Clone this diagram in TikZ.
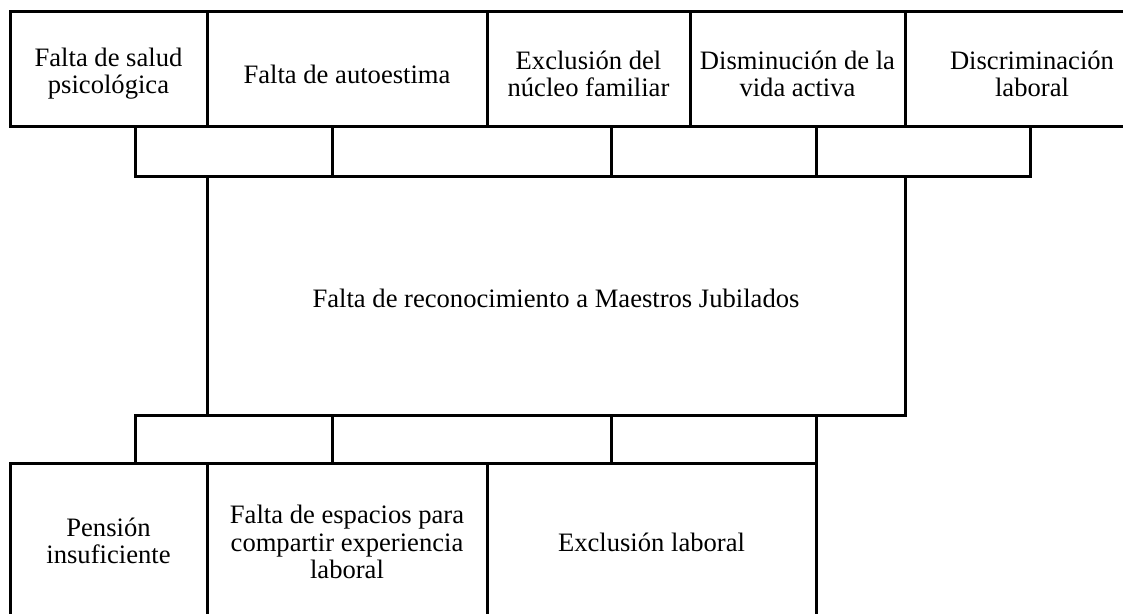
\documentclass[tikz,border=0pt]{standalone}
\usepackage{fontspec}
\setmainfont{Liberation Serif}
\usepackage{tikz}

\begin{document}
\begin{tikzpicture}[%
      x=0.5pt, y=-0.5pt,
      cell/.style={color=black, line width=1.5pt},
      boxtext/.style={align=center, inner sep=0pt, font=\fontsize{13.3}{13.6}\selectfont},
      ]
      \useasboundingbox (0,0) rectangle (1123,614);
      \clip (0,0) rectangle (1123,614);

      % efectos
      \draw [cell] (10,12) rectangle (207,127);
      \draw [cell] (207,12) rectangle (487,127);
      \draw [cell] (487,12) rectangle (690,127);
      \draw [cell] (690,12) rectangle (905,127);
      \draw [cell] (905,12) rectangle (1160,127);

      \draw [cell] (135,127) rectangle (332,177);
      \draw [cell] (332,127) rectangle (611,177);
      \draw [cell] (611,127) rectangle (816,177);
      \draw [cell] (816,127) rectangle (1030,177);

      % problema central
      \draw [cell] (207,177) rectangle (905,415);

      % causas
      \draw [cell] (135,415) rectangle (332,463);
      \draw [cell] (332,415) rectangle (611,463);
      \draw [cell] (611,415) rectangle (816,463);

      \draw [cell] (10,463) rectangle (207,620);
      \draw [cell] (207,463) rectangle (487,620);
      \draw [cell] (487,463) rectangle (816,620);

      \node (salud) at (108.5,74) [boxtext] {Falta de salud\\psicológica};
      \node (autoestima) at (347,74) [boxtext] {Falta de autoestima};
      \node (familia) at (588.5,74) [boxtext] {Exclusión del\\núcleo familiar};
      \node (vida) at (797.5,74) [boxtext] {Disminución de la\\vida activa};
      \node (discrim) at (1032,74) [boxtext] {Discriminación\\laboral};

      \node (problema) at (556,298) [boxtext] {Falta de reconocimiento a Maestros Jubilados};

      \node (pension) at (108.5,541) [boxtext] {Pensión\\insuficiente};
      \node (espacios) at (347,542) [boxtext] {Falta de espacios para\\compartir experiencia\\laboral};
      \node (exclusion) at (651.5,542) [boxtext] {Exclusión laboral};
\end{tikzpicture}
\end{document}
